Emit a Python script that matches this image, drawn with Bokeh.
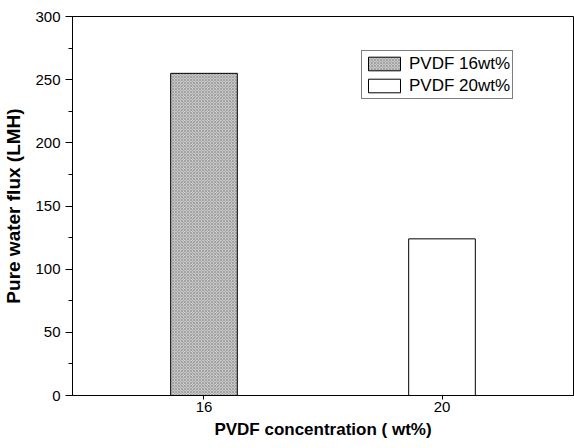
from bokeh.plotting import figure
from bokeh.models import ColumnDataSource, FactorRange, Range1d, SingleIntervalTicker, Legend, LegendItem
from bokeh.embed import file_html
from bokeh.resources import INLINE

# Data
categories = ["16", "20"]
flux = [255, 124]
series_labels = ["PVDF 16wt%", "PVDF 20wt%"]
fills = ["#c8c8c8", "#ffffff"]
hatches = ["x", " "]

source = ColumnDataSource(dict(cat=categories, flux=flux, label=series_labels,
                               fill=fills, hatch=hatches))

FONT = "Liberation Sans"

p = figure(width=574, height=448, output_backend="svg", toolbar_location=None,
           x_range=FactorRange(factors=categories, range_padding=0.0525,
                               range_padding_units="absolute"),
           y_range=Range1d(0, 300),
           min_border_left=72, min_border_right=1, min_border_top=16, min_border_bottom=53)

r = p.vbar(x="cat", top="flux", width=0.28, source=source,
           fill_color="fill", line_color="black", line_width=1,
           hatch_pattern="hatch", hatch_color="#6f6f6f", hatch_scale=3,
           hatch_weight=0.6, hatch_alpha=0.7)

p.grid.visible = False
p.outline_line_color = "black"
p.outline_line_width = 1
p.background_fill_color = "white"
p.border_fill_color = "white"

for ax in (p.xaxis, p.yaxis):
    ax.axis_label_text_font = FONT
    ax.axis_label_text_font_style = "bold"
    ax.axis_label_text_color = "black"
    ax.major_label_text_font = FONT
    ax.major_label_text_font_size = "15px"
    ax.major_label_text_color = "black"
    ax.axis_line_color = "black"
    ax.major_tick_line_color = "black"
    ax.minor_tick_line_color = "black"
    ax.major_tick_in = 0
    ax.minor_tick_in = 0

# Y axis
p.yaxis.ticker = SingleIntervalTicker(interval=50, num_minor_ticks=2)
p.yaxis.axis_label = "Pure water flux (LMH)"
p.yaxis.axis_label_text_font_size = "19px"
p.yaxis.axis_label_standoff = 8
p.yaxis.major_label_standoff = 5
p.yaxis.major_tick_out = 7
p.yaxis.minor_tick_out = 4

# X axis
p.xaxis.axis_label = "PVDF concentration ( wt%)"
p.xaxis.axis_label_text_font_size = "17px"
p.xaxis.axis_label_standoff = 5
p.xaxis.major_label_standoff = 2
p.xaxis.major_tick_out = 4

legend = Legend(items=[LegendItem(label=series_labels[i], renderers=[r], index=i)
                       for i in range(len(series_labels))],
                location=(289, 296), orientation="vertical",
                label_text_font=FONT, label_text_font_size="17px",
                label_text_color="black",
                glyph_width=40, glyph_height=17, label_height=21,
                label_standoff=5, padding=2, spacing=1, margin=0,
                border_line_color="black", border_line_width=1,
                background_fill_color="white", background_fill_alpha=1)
p.add_layout(legend)

open("out.html", "w").write(file_html(p, INLINE))
